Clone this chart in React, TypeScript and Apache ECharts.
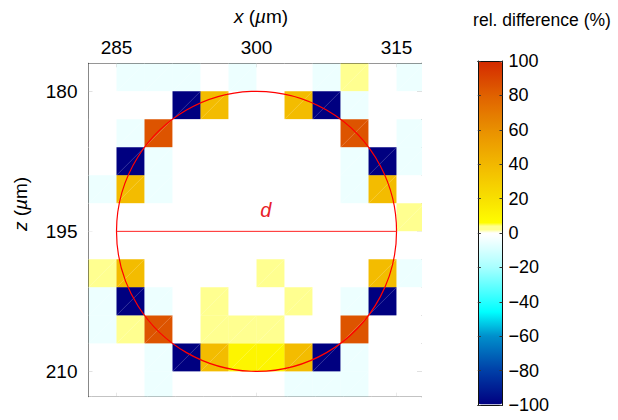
import React, { useEffect, useRef } from 'react';
import * as echarts from 'echarts';

// ---- data ----
const xCenters = [283.5, 286.5, 289.5, 292.5, 295.5, 298.5, 301.5, 304.5, 307.5, 310.5, 313.5, 316.5];
const zCenters = [178.5, 181.5, 184.5, 187.5, 190.5, 193.5, 196.5, 199.5, 202.5, 205.5, 208.5, 211.5];
// relative difference (%) per row (z) and column (x)
const relDiff: number[][] = [
  [0, -5, -5, -5, 0, -5, 0, 0, -5, 2, 0, -5],
  [0, 0, 0, -100, 38, 0, 0, 38, -100, -5, 0, 0],
  [0, -5, 85, 0, 0, 0, 0, 0, 0, 85, 0, -5],
  [0, -100, -5, 0, 0, 0, 0, 0, 0, -5, -100, -5],
  [-5, 38, -5, 0, 0, 0, 0, 0, 0, -5, 38, 0],
  [0, 0, 0, 0, 0, 0, 0, 0, 0, 0, 0, 2],
  [0, 0, 0, 0, 0, 0, 0, 0, 0, 0, 0, 0],
  [2, 38, 0, 0, 0, 0, 2, 0, 0, 0, 38, -5],
  [-5, -100, -5, 0, 2, 0, 0, 2, 0, -5, -100, 0],
  [-5, 2, 85, 0, 2, 2, 2, 0, 0, 85, 0, 0],
  [0, 0, -5, -100, 38, 10, 10, 38, -100, -5, 0, 0],
  [0, 0, -5, 0, 0, 0, 0, -5, -5, -5, 0, 0],
];
const cellSize = 3;
const xTicks = [285, 300, 315];
const zTicks = [180, 195, 210];
const xRange = [282, 317.62];
const zRange = [177, 212.71];
const circleCenter = [300, 195];
const circleDiameter = 30;
const cbarRange = [-100, 100];
const cbarInterval = 20;

// colormap stops (value, colour)
const cmapStops: [number, string][] = [
  [-100, '#000080'],
  [-80, '#0040a8'],
  [-60, '#0090cc'],
  [-46, '#00ffff'],
  [-20, '#a8ffff'],
  [-8, '#e0ffff'],
  [-1, '#ffffff'],
  [0, '#ffffff'],
  [0.5, '#ffff90'],
  [4, '#ffff90'],
  [5, '#ffff00'],
  [20, '#f8e000'],
  [40, '#f2b800'],
  [60, '#e99000'],
  [80, '#e06200'],
  [100, '#d42a00'],
];

function hex(c: string) {
  return [parseInt(c.slice(1, 3), 16), parseInt(c.slice(3, 5), 16), parseInt(c.slice(5, 7), 16)];
}
function buildColormap(): string[] {
  const out: string[] = [];
  for (let v = cbarRange[0]; v <= cbarRange[1] + 1e-9; v += 0.5) {
    let i = 0;
    while (i < cmapStops.length - 2 && v > cmapStops[i + 1][0]) i++;
    const [v0, c0] = cmapStops[i];
    const [v1, c1] = cmapStops[i + 1];
    const t = v1 === v0 ? 0 : Math.min(1, Math.max(0, (v - v0) / (v1 - v0)));
    const a = hex(c0), b = hex(c1);
    const r = a.map((x, k) => Math.round(x + (b[k] - x) * t));
    out.push(`rgb(${r[0]},${r[1]},${r[2]})`);
  }
  return out;
}

const FONT = 'Liberation Sans, Arial, Helvetica, sans-serif';

export default function App() {
  const ref = useRef<HTMLDivElement>(null);
  useEffect(() => {
    if (!ref.current) return;
    const chart = echarts.init(ref.current, undefined, { renderer: 'svg' });

    const cells: number[][] = [];
    zCenters.forEach((z, r) => xCenters.forEach((x, c) => cells.push([x, z, relDiff[r][c]])));

    const frameLine = { show: true, onZero: false, lineStyle: { color: '#111', width: 1 } };
    const mainX = (pos: string, labels: boolean) => ({
      gridIndex: 0, type: 'value', position: pos, min: xRange[0], max: xRange[1],
      axisLine: frameLine,
      axisTick: { show: true, inside: true, length: 4, customValues: xTicks, lineStyle: { color: '#111' } },
      axisLabel: { show: labels, customValues: xTicks, fontSize: 19, color: '#000', margin: 6, fontFamily: FONT },
      splitLine: { show: false },
    });
    const mainY = (pos: string, labels: boolean) => ({
      gridIndex: 0, type: 'value', position: pos, inverse: true, min: zRange[0], max: zRange[1],
      axisLine: frameLine,
      axisTick: { show: true, inside: true, length: 4, customValues: zTicks, lineStyle: { color: '#111' } },
      axisLabel: { show: labels, customValues: zTicks, fontSize: 19, color: '#000', margin: 11, fontFamily: FONT },
      splitLine: { show: false },
    });
    const cbX = (pos: string) => ({
      gridIndex: 1, type: 'value', position: pos, min: 0, max: 1, z: 10,
      axisLine: frameLine, axisTick: { show: false }, axisLabel: { show: false }, splitLine: { show: false },
    });
    const cbY = (pos: string, labels: boolean) => ({
      gridIndex: 1, type: 'value', position: pos, min: cbarRange[0], max: cbarRange[1], interval: cbarInterval, z: 10,
      axisLine: frameLine,
      axisTick: { show: true, inside: true, length: 3, lineStyle: { color: '#333' } },
      axisLabel: {
        show: labels, fontSize: 18, color: '#000', margin: 6, fontFamily: FONT,
        formatter: (v: number) => (v < 0 ? '\u2212' + Math.abs(v) : String(v)),
      },
      splitLine: { show: false },
    });

    chart.setOption({
      animation: false,
      textStyle: { fontFamily: FONT },
      grid: [
        { left: 88.5, top: 63.3, width: 332.5, height: 333.4 },
        { left: 477.8, top: 61, width: 24.7, height: 344 },
      ],
      xAxis: [mainX('top', true), mainX('bottom', false), cbX('bottom'), cbX('top')],
      yAxis: [mainY('left', true), mainY('right', false), cbY('right', true), cbY('left', false)],
      visualMap: {
        type: 'continuous', min: cbarRange[0], max: cbarRange[1], seriesIndex: 0, dimension: 2,
        inRange: { color: buildColormap() },
        left: 478.3, top: 61.5, itemWidth: 24, itemHeight: 343, padding: 0,
        calculable: false, hoverLink: false, orient: 'vertical', showLabel: false, text: null,
      },
      graphic: [
        {
          type: 'text', x: 261, y: 16,
          style: {
            text: '{i|x} ({i|\u00b5}m)', fontSize: 19, fontFamily: FONT, fill: '#000',
            align: 'center', verticalAlign: 'middle',
            rich: { i: { fontStyle: 'italic', fontSize: 19, fontFamily: FONT } },
          },
        },
        {
          type: 'text', x: 20, y: 204, rotation: Math.PI / 2,
          style: {
            text: '{i|z} ({i|\u00b5}m)', fontSize: 19, fontFamily: FONT, fill: '#000',
            align: 'center', verticalAlign: 'middle',
            rich: { i: { fontStyle: 'italic', fontSize: 19, fontFamily: FONT } },
          },
        },
        {
          type: 'text', x: 542, y: 20,
          style: { text: 'rel. difference (%)', fontSize: 17.5, fontFamily: FONT, fill: '#000', align: 'center', verticalAlign: 'middle' },
        },
      ],
      series: [
        {
          type: 'custom', coordinateSystem: 'cartesian2d', xAxisIndex: 0, yAxisIndex: 0, clip: true,
          encode: { x: 0, y: 1 },
          data: cells,
          renderItem: (params: any, api: any) => {
            const x = api.value(0), z = api.value(1);
            const a = api.coord([x - cellSize / 2, z - cellSize / 2]);
            const b = api.coord([x + cellSize / 2, z + cellSize / 2]);
            const x0 = Math.min(a[0], b[0]), x1 = Math.max(a[0], b[0]);
            const y0 = Math.min(a[1], b[1]), y1 = Math.max(a[1], b[1]);
            const col = api.visual('color');
            return {
              type: 'group',
              children: [
                { type: 'rect', shape: { x: x0, y: y0, width: x1 - x0 + 0.3, height: y1 - y0 + 0.3 }, style: { fill: col, stroke: null } },
                { type: 'line', shape: { x1: x0, y1: y1, x2: x1, y2: y0 }, style: { stroke: 'rgba(255,255,255,0.3)', lineWidth: 0.7 } },
              ],
            };
          },
          z: 2,
        },
        {
          type: 'custom', coordinateSystem: 'cartesian2d', xAxisIndex: 0, yAxisIndex: 0, clip: true,
          data: [[circleCenter[0], circleCenter[1], circleDiameter]],
          renderItem: (params: any, api: any) => {
            const cx = api.value(0), cz = api.value(1), d = api.value(2);
            const c = api.coord([cx, cz]);
            const l = api.coord([cx - d / 2, cz]);
            const rr = api.coord([cx + d / 2, cz]);
            const lab = api.coord([cx + 1, cz - 2.3]);
            const rad = (rr[0] - l[0]) / 2;
            return {
              type: 'group',
              children: [
                { type: 'circle', shape: { cx: c[0], cy: c[1], r: rad }, style: { fill: 'none', stroke: '#ff0000', lineWidth: 1.2 } },
                { type: 'line', shape: { x1: l[0], y1: l[1], x2: rr[0], y2: rr[1] }, style: { stroke: '#f22', lineWidth: 1 } },
                {
                  type: 'text', x: lab[0], y: lab[1],
                  style: { text: 'd', fill: '#e8202a', fontSize: 20, fontStyle: 'italic', fontFamily: FONT, align: 'center', verticalAlign: 'middle' },
                },
              ],
            };
          },
          z: 5,
        },
      ],
    });
    return () => chart.dispose();
  }, []);
  return <div ref={ref} style={{ position: 'absolute', left: 0, top: 0, width: 618, height: 420 }} />;
}
